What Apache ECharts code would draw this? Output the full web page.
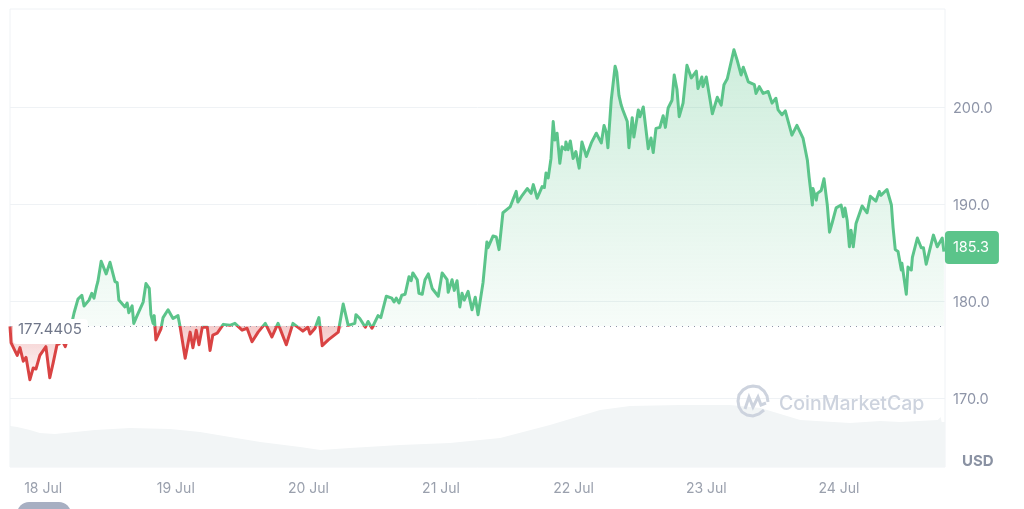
<!DOCTYPE html>
<html lang="en">

<head>
    <meta charset="UTF-8">
    <title>Price chart</title>
    <script src="https://cdnjs.cloudflare.com/ajax/libs/echarts/6.0.0/echarts.min.js"></script>
    <style>
        html, body { margin: 0; padding: 0; background: #fff; }
        #main { width: 1024px; height: 509px; }
    </style>
</head>

<body>
    <div id="main"></div>
    <script>
        // hours since the start of the chart
        const priceHours = [
            0, 0.2, 1.3, 1.8, 2.4, 2.9, 3.6, 4.2, 4.7, 5.4,
            6.5, 7.2, 7.8, 8.5, 8.9, 9.4, 10.0, 10.9, 11.6, 12.3, 13.0,
            13.4, 14.3, 14.8, 15.2, 15.7, 15.9, 16.5, 17.4, 18.1, 19.0,
            19.4, 19.7, 20.8, 21.2, 21.5, 22.1, 22.4, 23.0, 24.1, 24.4,
            24.6, 25.2, 25.5, 25.9, 26.1, 26.4, 27.3, 27.7, 28.6, 29.5,
            30.4, 30.8, 31.7, 32.6, 33.1, 33.7, 34.2, 34.8, 35.7, 36.2,
            36.7, 37.5, 38.6, 39.8, 40.7, 42.0, 42.9, 43.8, 44.9, 46.2,
            47.4, 48.5, 50.0, 51.2, 53.0, 53.9, 54.3, 55.2, 55.9, 56.5,
            57.6, 59.4, 60.3, 61.2, 62.4, 62.6, 63.3, 64.3, 64.8, 65.5,
            66.6, 67.1, 68.1, 69.1, 69.5, 69.9, 70.4, 70.9, 71.5, 72.2,
            72.6, 72.9, 73.7, 74.0, 74.6, 75.1, 75.7, 76.4, 77.5, 78.2,
            79.1, 79.3, 80.0, 80.4, 80.9, 81.4, 81.8, 82.2, 82.9, 83.6,
            84.2, 84.7, 85.6, 86.3, 86.5, 87.4, 88.0, 88.5, 89.2, 90.5,
            91.6, 91.9, 92.7, 93.6, 94.3, 94.7, 95.4, 96.3, 96.7, 97.0,
            97.4, 97.9, 98.3, 98.6, 99.0, 99.5, 99.9, 100.5, 100.6, 101.0,
            101.4, 101.9, 102.4, 103.0, 103.5, 104.3, 104.6, 105.2, 106.1, 107.0,
            107.5, 107.9, 108.2, 108.8, 109.5, 109.8, 110.2, 110.6, 110.9, 111.7,
            112.0, 112.6, 112.9, 113.7, 114.0, 114.6, 115.5, 116.0, 116.4, 116.9,
            117.6, 118.2, 118.6, 119.1, 119.8, 120.2, 120.7, 121.1, 121.8, 122.5,
            123.3, 124.2, 124.5, 125.2, 125.4, 126.0, 126.5, 127.1, 128.0, 128.7,
            129.2, 129.8, 130.1, 131.0, 131.6, 132.3, 132.7, 133.6, 134.7, 135.0,
            135.6, 136.3, 137.2, 137.9, 138.6, 139.0, 139.7, 140.3, 141.5, 142.4,
            143.5, 144.3, 144.6, 145.2, 145.3, 145.9, 146.1, 146.8, 147.3, 147.9,
            148.3, 148.8, 149.5, 150.4, 150.8, 151.1, 151.5, 151.9, 152.2, 152.6,
            153.1, 154.2, 155.1, 155.7, 156.0, 156.7, 157.3, 157.6, 158.7, 159.5,
            159.8, 160.2, 160.7, 161.3, 161.4, 162.2, 162.5, 163.1, 163.3, 164.2,
            164.9, 165.3, 165.8, 167.1, 167.8, 168.7, 169.0
        ];
        const priceValues = [
            177.4, 175.7, 174.4, 175.2, 173.8, 174.2, 171.9, 173.1, 173.0, 174.4,
            175.3, 172.1, 173.6, 175.5, 175.6, 176.0, 175.3, 177.0, 178.8, 180.2, 180.6,
            179.5, 180.1, 180.8, 180.3, 181.6, 182.0, 184.1, 182.8, 184.0, 182.0,
            181.9, 180.1, 179.4, 179.8, 178.8, 179.5, 177.7, 178.5, 179.9, 179.8,
            181.8, 181.3, 178.6, 177.7, 178.5, 176.0, 177.1, 178.3, 179.1, 178.2,
            178.5, 177.3, 174.1, 176.8, 175.2, 177.0, 175.5, 177.3, 177.3, 174.9,
            176.5, 176.7, 177.6, 177.5, 177.7, 177.0, 177.2, 175.8, 176.8, 177.7,
            176.3, 177.7, 175.5, 177.7, 176.9, 177.3, 176.6, 177.2, 178.3, 175.4,
            176.0, 176.8, 179.7, 177.5, 177.7, 178.6, 178.2, 177.3, 177.9, 177.2,
            178.5, 178.3, 180.5, 180.3, 179.9, 180.3, 179.8, 180.6, 180.7, 182.5,
            182.1, 182.9, 182.2, 180.8, 180.7, 182.2, 182.8, 181.3, 180.5, 182.9,
            182.2, 180.9, 182.2, 181.1, 182.1, 179.4, 180.8, 180.1, 181.0, 179.1,
            180.4, 178.6, 181.9, 186.1, 185.5, 186.7, 186.6, 185.3, 189.1, 189.7,
            191.3, 190.2, 190.9, 191.6, 191.1, 192.0, 190.6, 191.8, 191.7, 193.2,
            192.7, 194.7, 198.5, 196.6, 197.3, 194.2, 195.9, 195.6, 196.4, 195.6,
            196.5, 194.7, 195.4, 193.7, 196.4, 194.9, 194.8, 196.3, 197.3, 196.3,
            198.1, 197.4, 195.8, 200.7, 204.2, 203.6, 201.2, 200.2, 199.7, 198.5,
            195.8, 198.9, 196.9, 199.7, 199.0, 200.0, 195.7, 196.8, 195.3, 197.8,
            197.9, 199.1, 197.9, 199.9, 200.7, 203.3, 201.8, 199.0, 200.4, 204.3,
            203.0, 203.7, 201.9, 203.1, 202.1, 203.1, 201.4, 199.3, 201.0, 200.2,
            202.3, 202.9, 202.8, 205.9, 204.8, 203.3, 204.1, 202.6, 202.3, 201.4,
            202.1, 201.4, 201.6, 200.4, 200.9, 199.7, 199.2, 199.6, 197.1, 198.1,
            196.8, 194.5, 192.8, 189.9, 191.6, 190.4, 191.1, 191.4, 192.6, 189.9,
            187.1, 188.1, 189.6, 189.9, 188.7, 189.6, 188.3, 185.6, 187.3, 185.6,
            188.0, 189.8, 189.1, 190.8, 190.8, 190.3, 191.3, 190.9, 191.5, 189.9,
            187.6, 185.3, 185.1, 183.2, 183.9, 180.7, 183.5, 183.2, 184.5, 186.5,
            185.5, 185.5, 183.8, 186.8, 185.6, 186.5, 185.1
        ];

        const volumeHours = [0, 1.3, 3.6, 5.4, 8.1, 11.8, 15.4, 21.7, 29, 34.4, 39.8, 45.3, 52.5, 56.2, 61.5, 70.6, 79.6, 88.7, 97.7, 106.8, 112.2, 121.3, 130.3, 135.8, 143, 152, 157.5, 161.1, 167.9, 168.4, 168.6, 169.2];
        const volumeValues = [410, 400, 370, 340, 330, 350, 370, 390, 380, 350, 300, 250, 200, 170, 190, 220, 240, 290, 420, 570, 610, 620, 620, 590, 470, 440, 460, 450, 470, 500, 450, 450];

        const baseValue = 177.4405;
        const lastValue = 185.3;
        const priceTicks = [170, 180, 190, 200];
        const dayHours = [6, 30, 54, 78, 102, 126, 150];
        const dayLabels = ['18 Jul', '19 Jul', '20 Jul', '21 Jul', '22 Jul', '23 Jul', '24 Jul'];

        const green = '#5bc48a';
        const red = '#d94343';

        const chart = echarts.init(document.getElementById('main'));

        const pricePoints = priceHours.map((h, i) => [h, priceValues[i]]);
        const volumePoints = volumeHours.map((h, i) => [h, volumeValues[i]]);
        const abovePoints = pricePoints.map(p => [p[0], Math.max(p[1], baseValue)]);
        const belowPoints = pricePoints.map(p => [p[0], Math.min(p[1], baseValue)]);

        function fade(from, to) {
            return new echarts.graphic.LinearGradient(0, 0, 0, 1, [
                { offset: 0, color: from },
                { offset: 1, color: to }
            ]);
        }

        const option = {
            animation: false,
            grid: {
                left: 10, right: 79, top: 9, height: 458,
                show: true, borderColor: '#eff2f5', borderWidth: 1
            },
            xAxis: {
                type: 'value', min: 0, max: 169.2,
                axisLine: { show: false },
                axisTick: { show: false },
                splitLine: { show: false },
                axisLabel: {
                    customValues: dayHours,
                    formatter: v => dayLabels[dayHours.indexOf(v)],
                    color: '#9aa0ad', fontFamily: 'Inter', fontSize: 14, margin: 15
                }
            },
            yAxis: [
                {
                    type: 'value', position: 'right', min: 162.9, max: 210.1,
                    axisLine: { show: false },
                    axisTick: { show: false, customValues: priceTicks },
                    splitLine: { lineStyle: { color: '#eff2f5', width: 1 } },
                    axisLabel: {
                        customValues: priceTicks,
                        formatter: v => '{p|' + v.toFixed(1) + '}',
                        margin: 8,
                        rich: {
                            p: { color: '#8e95a8', fontFamily: 'Inter', fontSize: 14.5, padding: [4, 0, 0, 0] }
                        }
                    }
                },
                { type: 'value', min: 0, max: 4580, show: false }
            ],
            visualMap: {
                show: false, seriesIndex: 3, dimension: 1,
                pieces: [
                    { min: 160, max: baseValue, color: red },
                    { min: baseValue, max: 215, color: green }
                ]
            },
            series: [
                {
                    type: 'line', yAxisIndex: 1, data: volumePoints, symbol: 'none', z: 1,
                    lineStyle: { width: 0 },
                    areaStyle: { color: '#f2f5f6', opacity: 1, origin: 'start' }
                },
                {
                    type: 'line', data: abovePoints, symbol: 'none', z: 2,
                    lineStyle: { width: 0 },
                    areaStyle: { origin: baseValue, opacity: 1, color: fade('rgba(91,196,138,0.30)', 'rgba(91,196,138,0.05)') }
                },
                {
                    type: 'line', data: belowPoints, symbol: 'none', z: 2,
                    lineStyle: { width: 0 },
                    areaStyle: { origin: baseValue, opacity: 1, color: fade('rgba(217,67,67,0.28)', 'rgba(217,67,67,0.04)') }
                },
                {
                    type: 'line', data: pricePoints, symbol: 'none', z: 3,
                    lineStyle: { width: 3, join: 'round' },
                    endLabel: {
                        show: true,
                        formatter: () => lastValue.toFixed(1),
                        color: '#fff', backgroundColor: green, borderRadius: 4,
                        fontFamily: 'Inter', fontSize: 14.5,
                        padding: [9, 10, 9, 8], distance: 0, offset: [1, -4]
                    }
                },
                {
                    type: 'line', data: [], z: 5,
                    markLine: {
                        silent: true, symbol: 'none', animation: false,
                        data: [{ yAxis: baseValue }],
                        lineStyle: { color: '#8e95a8', type: [1, 5], width: 1 },
                        label: {
                            position: 'insideStartTop',
                            formatter: String(baseValue),
                            color: '#6f7689', fontFamily: 'Inter', fontSize: 15,
                            backgroundColor: '#fff', borderRadius: 4,
                            padding: [3, 6, 7, 5],
                            offset: [-2, 23]
                        }
                    }
                }
            ],
            graphic: [
                { type: 'text', z: 10, left: 962, top: 454, style: { text: 'USD', fill: '#8a92a3', font: 'bold 15px Inter' } },
                { type: 'text', z: 10, left: 779, top: 394, style: { text: 'CoinMarketCap', fill: '#cdd3de', font: '500 19.5px Inter' } },
                {
                    type: 'polyline', z: 10,
                    shape: { points: [[764, 410], [759, 414], [753, 416], [747, 415], [742, 412], [739, 407], [738, 401], [739, 395], [743, 390], [748, 387], [753, 386], [759, 387], [764, 391], [767, 396], [768, 402]] },
                    style: { stroke: '#cdd3de', lineWidth: 3, fill: null }
                },
                {
                    type: 'polyline', z: 10, shape: { points: [[745, 409], [749, 397], [753, 407], [758, 397], [761, 405], [766, 403]] },
                    style: { stroke: '#cdd3de', lineWidth: 3, fill: null }
                },
                { type: 'rect', z: 10, shape: { x: 17, y: 502, width: 54, height: 24, r: 12 }, style: { fill: '#a7afc2' } }
            ]
        };

        chart.setOption(option);
    </script>

</body>

</html>
